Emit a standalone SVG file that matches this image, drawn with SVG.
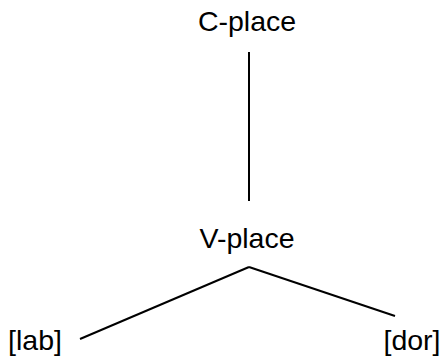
<svg xmlns="http://www.w3.org/2000/svg" width="445" height="360" viewBox="0 0 445 360">
<style>
.t{font-family:"Liberation Sans",Arial,sans-serif;font-size:28.5px;fill:#000}
.e{stroke:#000;stroke-width:2;fill:none}
</style>
<rect width="445" height="360" fill="#fff"/>
<g id="connectors">
<line class="e" x1="249" y1="52" x2="249" y2="201"/>
<line class="e" x1="249" y1="267" x2="80" y2="339"/>
<line class="e" x1="249" y1="267" x2="395" y2="316"/>
</g>
<g id="c-place"><text class="t" x="247" y="31" text-anchor="middle">C-place</text></g>
<g id="v-place"><text class="t" x="247" y="248" text-anchor="middle">V-place</text></g>
<g id="lab"><text class="t" x="35" y="350" text-anchor="middle">[lab]</text></g>
<g id="dor"><text class="t" x="412" y="350" text-anchor="middle">[dor]</text></g>
</svg>
